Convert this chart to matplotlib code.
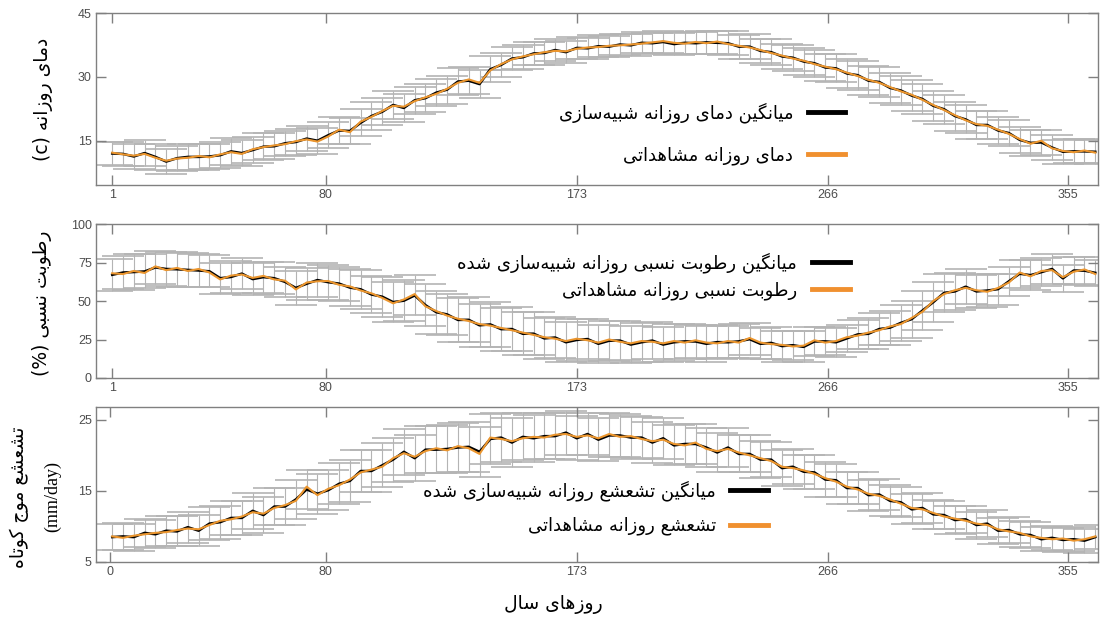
import unicodedata
import numpy as np
import matplotlib
matplotlib.use('Agg')
import matplotlib.pyplot as plt

# روزهای سال (هر ۴ روز یک نقطه)
days = np.arange(1, 366, 4)

temp_obs = [12.2, 11.8, 11.5, 11.9, 11.0, 10.3, 10.8, 11.0, 11.4, 11.1,
            11.8, 12.3, 11.9, 13.0, 13.5, 13.9, 14.2, 14.9, 15.3, 14.8,
            16.0, 17.6, 17.0, 19.5, 20.6, 22.0, 23.2, 23.0, 24.3, 25.2,
            26.0, 27.2, 28.6, 29.4, 28.6, 31.5, 33.0, 34.1, 34.8, 35.3,
            35.8, 36.1, 36.0, 36.6, 36.9, 37.0, 37.3, 37.4, 37.6, 37.8,
            38.1, 38.4, 38.0, 37.8, 38.2, 37.9, 38.3, 37.7, 37.3, 36.9,
            36.3, 35.6, 35.0, 34.3, 33.8, 33.0, 32.4, 31.8, 31.0, 30.2,
            29.3, 28.6, 27.6, 26.6, 25.8, 24.6, 23.4, 22.2, 21.0, 19.8,
            18.9, 18.5, 17.6, 16.6, 15.4, 14.3, 15.0, 13.2, 12.6, 12.3,
            12.7, 12.2]
temp_sim = [12.0, 11.9, 11.3, 12.1, 11.2, 10.1, 10.9, 11.2, 11.2, 11.3,
            11.6, 12.5, 12.1, 12.8, 13.6, 13.7, 14.4, 14.7, 15.5, 15.0,
            16.3, 17.4, 17.3, 19.2, 20.8, 21.8, 23.4, 22.7, 24.5, 25.0,
            26.3, 27.0, 28.9, 29.1, 28.3, 31.8, 32.8, 34.3, 34.6, 35.5,
            35.6, 36.3, 35.8, 36.8, 36.7, 37.2, 37.1, 37.6, 37.4, 38.0,
            37.9, 38.2, 37.7, 38.0, 37.9, 38.1, 38.0, 37.9, 37.1, 37.1,
            36.1, 35.8, 34.8, 34.5, 33.6, 33.2, 32.2, 32.0, 30.8, 30.4,
            29.1, 28.8, 27.4, 26.8, 25.6, 24.8, 23.2, 22.4, 20.8, 20.0,
            18.7, 18.7, 17.4, 16.8, 15.2, 14.5, 14.6, 13.4, 12.4, 12.5,
            12.5, 12.4]
temp_err = [2.8, 2.9, 3.0, 3.0, 3.1, 3.0, 2.9, 3.0, 3.1, 3.0,
            3.0, 3.1, 3.0, 3.0, 3.1, 3.0, 3.0, 3.1, 3.0, 3.1,
            3.1, 3.2, 3.1, 3.2, 3.3, 3.2, 3.2, 3.3, 3.2, 3.3,
            3.2, 3.3, 3.2, 3.1, 3.2, 3.0, 2.9, 2.8, 2.8, 2.7,
            2.7, 2.6, 2.6, 2.5, 2.5, 2.6, 2.5, 2.5, 2.6, 2.5,
            2.5, 2.6, 2.5, 2.6, 2.6, 2.7, 2.7, 2.8, 2.8, 2.9,
            2.9, 3.0, 3.0, 3.1, 3.1, 3.2, 3.2, 3.3, 3.3, 3.4,
            3.4, 3.5, 3.5, 3.5, 3.6, 3.5, 3.5, 3.4, 3.4, 3.3,
            3.3, 3.2, 3.2, 3.1, 3.0, 3.0, 2.9, 2.9, 2.8, 2.8,
            2.8, 2.8]

rh_obs = [68.0, 67.5, 69.5, 68.2, 72.5, 70.0, 71.5, 69.5, 70.8, 68.5,
          64.0, 66.5, 67.2, 65.0, 66.3, 64.0, 63.2, 57.5, 62.0, 62.8,
          63.0, 60.5, 59.5, 56.8, 55.0, 52.0, 48.5, 51.0, 54.5, 46.5,
          43.5, 40.5, 38.5, 37.0, 35.0, 34.0, 32.5, 31.0, 29.5, 28.0,
          26.5, 25.5, 24.0, 25.5, 24.5, 23.0, 25.0, 23.5, 22.5, 24.0,
          23.5, 22.5, 24.0, 23.0, 24.5, 23.0, 22.5, 24.0, 23.0, 26.0,
          23.0, 22.0, 21.5, 20.5, 21.0, 24.5, 23.0, 24.0, 26.5, 27.5,
          29.5, 31.0, 33.5, 35.0, 39.0, 43.0, 50.0, 54.5, 57.0, 58.5,
          57.0, 56.0, 58.5, 62.0, 68.5, 66.0, 69.5, 70.0, 65.5, 69.0,
          70.5, 67.5]
rh_sim = [67.0, 68.5, 68.8, 69.2, 71.8, 70.8, 70.6, 70.2, 69.8, 69.3,
          64.8, 65.6, 67.8, 64.2, 65.5, 64.8, 62.4, 58.5, 61.2, 63.6,
          62.2, 61.3, 58.7, 57.6, 54.2, 52.8, 49.3, 50.2, 53.6, 47.3,
          42.7, 41.3, 37.7, 37.8, 34.2, 34.8, 31.7, 31.8, 28.7, 28.8,
          25.7, 26.3, 23.2, 24.7, 25.3, 22.2, 24.2, 24.3, 21.7, 23.2,
          24.3, 21.7, 23.2, 23.8, 23.7, 22.2, 23.3, 23.2, 23.8, 25.2,
          22.2, 22.8, 20.7, 21.3, 20.2, 23.7, 23.8, 23.2, 25.7, 28.3,
          28.7, 31.8, 32.7, 35.8, 38.2, 43.8, 49.2, 55.3, 56.2, 59.3,
          56.2, 56.8, 57.7, 62.8, 67.7, 66.8, 68.7, 70.8, 64.7, 69.8,
          69.7, 68.3]
rh_err = [10.5, 11.0, 11.5, 11.0, 10.5, 11.0, 11.5, 11.0, 11.0, 10.5,
          10.0, 10.5, 10.0, 10.5, 10.0, 10.5, 10.0, 11.0, 10.5, 11.0,
          11.5, 11.0, 12.0, 12.5, 12.0, 13.0, 13.0, 13.5, 13.0, 13.5,
          14.0, 13.5, 14.0, 14.5, 14.0, 14.5, 14.0, 14.5, 14.0, 14.0,
          13.5, 13.5, 13.0, 13.5, 13.0, 12.5, 13.0, 12.5, 12.0, 12.5,
          12.0, 11.5, 12.0, 11.5, 11.0, 11.5, 11.0, 10.5, 11.0, 10.5,
          10.0, 10.5, 10.0, 9.5, 10.0, 9.5, 9.0, 9.5, 9.0, 9.5,
          10.0, 10.5, 11.0, 11.5, 12.0, 12.5, 13.0, 12.5, 12.0, 11.5,
          11.0, 10.5, 10.0, 9.5, 9.0, 9.5, 9.0, 9.5, 9.0, 9.0,
          9.0, 8.5]

rad_obs = [8.6, 8.4, 8.7, 8.9, 9.1, 9.2, 9.5, 9.7, 9.6, 10.2,
           10.8, 11.0, 11.4, 12.0, 11.8, 12.6, 13.0, 13.6, 15.6, 14.4,
           15.3, 15.8, 16.6, 17.6, 18.0, 18.4, 19.6, 20.3, 19.8, 20.6,
           21.0, 20.7, 21.3, 21.0, 20.2, 22.5, 22.3, 22.0, 22.4, 22.6,
           22.5, 22.9, 23.0, 22.6, 22.8, 22.4, 23.0, 22.6, 22.7, 22.3,
           22.0, 22.2, 21.6, 21.4, 21.8, 20.9, 20.6, 20.9, 20.4, 20.0,
           19.6, 19.2, 18.4, 18.2, 17.9, 17.4, 16.8, 16.3, 15.6, 15.2,
           14.6, 14.3, 13.8, 13.2, 12.6, 12.4, 11.9, 11.4, 11.1, 10.8,
           10.4, 10.2, 9.6, 9.3, 9.1, 8.6, 8.4, 8.2, 8.3, 8.0,
           8.2, 8.6]
rad_sim = [8.5, 8.6, 8.5, 9.1, 8.9, 9.4, 9.3, 9.9, 9.4, 10.4,
           10.6, 11.2, 11.2, 12.2, 11.6, 12.8, 12.8, 13.8, 15.2, 14.6,
           15.1, 16.0, 16.4, 17.8, 17.8, 18.6, 19.4, 20.5, 19.6, 20.8,
           20.8, 20.9, 21.1, 21.2, 20.5, 22.3, 22.5, 21.8, 22.6, 22.4,
           22.7, 22.7, 23.2, 22.4, 23.0, 22.2, 22.8, 22.8, 22.5, 22.5,
           21.8, 22.4, 21.4, 21.6, 21.6, 21.1, 20.4, 21.1, 20.2, 20.2,
           19.4, 19.4, 18.2, 18.4, 17.7, 17.6, 16.6, 16.5, 15.4, 15.4,
           14.4, 14.5, 13.6, 13.4, 12.4, 12.6, 11.7, 11.6, 10.9, 11.0,
           10.2, 10.4, 9.4, 9.5, 8.9, 8.8, 8.2, 8.4, 8.1, 8.2,
           8.0, 8.5]
rad_err = [1.8, 1.9, 1.9, 2.0, 2.0, 2.1, 2.1, 2.2, 2.2, 2.3,
           2.3, 2.4, 2.4, 2.5, 2.5, 2.6, 2.6, 2.7, 2.7, 2.8,
           2.8, 2.9, 2.9, 3.0, 3.0, 3.1, 3.1, 3.2, 3.2, 3.3,
           3.3, 3.4, 3.4, 3.5, 3.5, 3.5, 3.4, 3.4, 3.3, 3.3,
           3.2, 3.2, 3.1, 3.1, 3.0, 3.0, 3.1, 3.0, 3.0, 2.9,
           2.9, 2.9, 2.8, 2.8, 2.8, 2.7, 2.7, 2.7, 2.6, 2.6,
           2.6, 2.5, 2.5, 2.5, 2.4, 2.4, 2.4, 2.3, 2.3, 2.3,
           2.2, 2.2, 2.2, 2.1, 2.1, 2.1, 2.0, 2.0, 2.0, 1.9,
           1.9, 1.9, 1.8, 1.8, 1.8, 1.8, 1.7, 1.7, 1.7, 1.7,
           1.7, 1.7]

xticks_top = [1, 80, 173, 266, 355]
xticks_bottom = [0, 80, 173, 266, 355]

labels_sim = ['میانگین دمای روزانه شبیه‌سازی',
              'میانگین رطوبت نسبی روزانه شبیه‌سازی شده',
              'میانگین تشعشع روزانه شبیه‌سازی شده']
labels_obs = ['دمای روزانه مشاهداتی',
              'رطوبت نسبی روزانه مشاهداتی',
              'تشعشع روزانه مشاهداتی']
ylabels = ['دمای روزانه (c)', 'رطوبت نسبی (%)', 'تشعشع موج کوتاه']
xlabel = 'روزهای سال'

# matplotlib حروف فارسی را به هم نمی‌چسباند، پس شکل حروف را خودمان می‌سازیم
RIGHT_ONLY = set('اآأإدذرزژوؤة')


def is_ar(c):
    return '\u0600' <= c <= '\u06FF'


def shape(word):
    out = []
    for i, c in enumerate(word):
        if not is_ar(c):
            if c != '\u200c':
                out.append(c)
            continue
        prev = word[i - 1] if i > 0 else ''
        nxt = word[i + 1] if i < len(word) - 1 else ''
        jp = prev != '' and is_ar(prev) and prev not in RIGHT_ONLY
        jn = nxt != '' and is_ar(nxt) and c not in RIGHT_ONLY
        form = 'MEDIAL' if jp and jn else 'FINAL' if jp else 'INITIAL' if jn else 'ISOLATED'
        try:
            out.append(unicodedata.lookup(unicodedata.name(c) + ' ' + form + ' FORM'))
        except KeyError:
            out.append(c)
    return ''.join(out)


def fa(text):
    words = text.split(' ')
    vis = [shape(w)[::-1] if any(is_ar(c) for c in w) else w for w in words]
    return ' '.join(vis[::-1])


fig = plt.figure(figsize=(11.01, 6.17), dpi=100)
W, H = 1101, 617

# موقعیت محورها به پیکسل: چپ، بالا، راست، پایین
boxes = [(96, 13, 1098, 185), (96, 224, 1098, 378), (96, 407, 1098, 562)]
ylims = [(4.6, 45), (0, 100), (5, 26.8)]
yticks = [[15, 30, 45], [0, 25, 50, 75, 100], [5, 15, 25]]
leg_pos = [(0.748, 0.30), (0.752, 0.66), (0.671, 0.35)]
leg_space = [1.3, 0.45, 0.9]
series = [(temp_sim, temp_obs, temp_err),
          (rh_sim, rh_obs, rh_err),
          (rad_sim, rad_obs, rad_err)]

for k in range(3):
    l, t, r, b = boxes[k]
    ax = fig.add_axes([l / W, 1 - b / H, (r - l) / W, (b - t) / H])
    sim, obs, err = series[k]
    eb = ax.errorbar(days, sim, yerr=err, fmt='none', ecolor='#b4b4b4',
                     elinewidth=0.8, capsize=15, capthick=1.2, zorder=1)
    for cap in eb[1]:
        cap.set_color('#9c9c9c')
    ax.plot(days, sim, color='black', lw=1.8, label=fa(labels_sim[k]), zorder=2)
    ax.plot(days, obs, color='#ec962e', lw=1.5, label=fa(labels_obs[k]), zorder=3)
    ax.set_xlim(-5, 366)
    ax.set_ylim(*ylims[k])
    ax.set_yticks(yticks[k])
    ax.set_xticks(xticks_bottom if k == 2 else xticks_top)
    ax.tick_params(direction='in', length=7, width=1, color='#808080',
                   labelcolor='#4d4d4d', labelsize=9, top=True, right=True,
                   pad=3)
    for lab in ax.get_xticklabels() + ax.get_yticklabels():
        lab.set_family('Liberation Sans')
    for s in ax.spines.values():
        s.set_color('#808080')
        s.set_linewidth(1)
    leg = ax.legend(loc='center right', bbox_to_anchor=leg_pos[k], frameon=False,
                    markerfirst=False, fontsize=13, handlelength=2.1,
                    handletextpad=0.8, labelspacing=leg_space[k],
                    borderpad=0, borderaxespad=0)
    for line in leg.get_lines():
        line.set_linewidth(3.5)
    leg.get_lines()[1].set_color('#f0902f')

fig.text(43 / W, 1 - 99 / H, fa(ylabels[0]), rotation=90, ha='center', va='center', fontsize=13.5)
fig.text(42 / W, 1 - 303 / H, fa(ylabels[1]), rotation=90, ha='center', va='center', fontsize=13.5)
fig.text(19 / W, 1 - 497 / H, fa(ylabels[2]), rotation=90, ha='center', va='center', fontsize=13.5)
fig.text(53 / W, 1 - 497 / H, '(mm/day)', rotation=90, ha='center', va='center',
         fontsize=13, family='Liberation Serif')
fig.text(553 / W, 1 - 604 / H, fa(xlabel), ha='center', va='center', fontsize=13.5)

fig.savefig('out.png', dpi=100)
